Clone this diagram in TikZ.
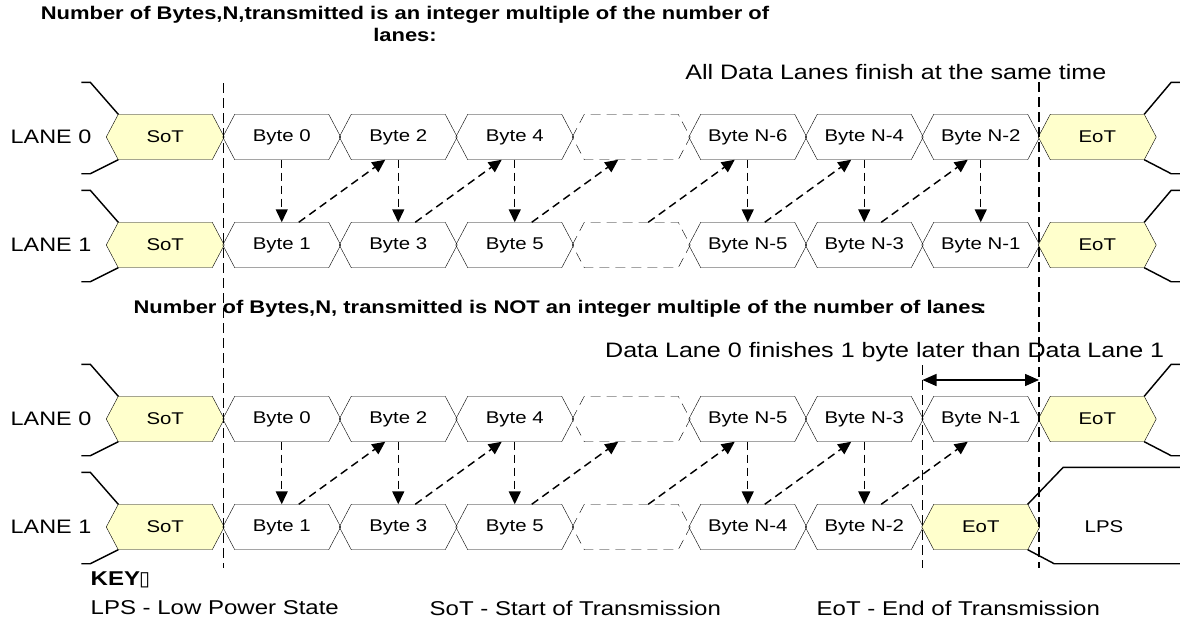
\documentclass[tikz,border=0pt]{standalone}
\usepackage{fontspec}
\setmainfont{Liberation Sans}[FakeStretch=1.2]
\newfontfamily\symfont{DejaVu Sans}
\usetikzlibrary{arrows.meta,backgrounds,calc}
\definecolor{sotfill}{HTML}{FFFFCC}
\newcommand{\mycell}[5]{%
  \node[cellnode] (#1) at (#2,#3) {#4};
  \begin{scope}[on background layer]
    \draw[#5] (#1.west) -- ([xshift=12pt]#1.north west) -- ([xshift=-12pt]#1.north east) -- (#1.east) -- ([xshift=-12pt]#1.south east) -- ([xshift=12pt]#1.south west) -- cycle;
  \end{scope}}
\newcommand{\leftlines}[1]{%
  \draw ([xshift=12pt]#1.north west) -- ++(-28,-32) -- ++(-9,0);
  \draw ([xshift=12pt]#1.south west) -- ++(-28,14) -- ++(-9,0);}
\newcommand{\rightlines}[1]{%
  \draw ([xshift=-12pt]#1.north east) -- ++(27,-32) -- ++(12,0);
  \draw ([xshift=-12pt]#1.south east) -- ++(27,14) -- ++(12,0);}
\begin{document}
\begin{tikzpicture}[x=1pt,y=-1pt,line width=1.45pt,
  cellnode/.style={minimum width=116.5pt,minimum height=44pt,inner sep=0pt,font=\fontsize{17}{20}\selectfont},
  hexplain/.style={draw=black},
  hexfill/.style={draw=black,fill=sotfill},
  hexdash/.style={draw=black,dash pattern=on 10pt off 6pt},
  dasharrow/.style={dash pattern=on 8pt off 5pt,-{Triangle[length=13pt,width=12pt]}},
  vline/.style={dash pattern=on 10pt off 5pt},
  lanelbl/.style={font=\fontsize{19.5}{22}\selectfont,inner sep=0pt},
  titletxt/.style={font=\fontsize{18.3}{21}\selectfont\bfseries,inner sep=0pt},
  notetxt/.style={font=\fontsize{20.9}{23}\selectfont,inner sep=0pt},
  keytxt/.style={font=\fontsize{20}{23}\selectfont,inner sep=0pt,anchor=west}]
\useasboundingbox (0,0) rectangle (1180,627);
\begin{scope}[on background layer]
  \fill[white] (0,0) rectangle (1180,627);
\end{scope}

% vertical dashed reference lines
\draw[vline] (223.5,83) -- (223.5,568);
\draw[vline] (1039,82) -- (1039,568);
\draw[vline] (922.5,365) -- (922.5,568);

% titles and notes
\node[titletxt] (t1a) at (405,15) {Number of Bytes,N,transmitted is an integer multiple of the number of};
\node[titletxt] (t1b) at (405,35) {lanes:};
\node[notetxt,anchor=east] (same) at (1107,72) {All Data Lanes finish at the same time};
\node[titletxt] (t2) at (560,309) {Number of Bytes,N, transmitted is NOT an integer multiple of the number of lanes\kern-0.2em:};
\node[notetxt,anchor=east] (late) at (1165,352) {Data Lane 0 finishes 1 byte later than Data Lane 1};

% lane labels
\node[lanelbl] (la0) at (51,137) {LANE 0};
\node[lanelbl] (la1) at (51,245) {LANE 1};
\node[lanelbl] (lb0) at (51,419) {LANE 0};
\node[lanelbl] (lb1) at (51,527) {LANE 1};

% ---------- top section, lane 0
\mycell{sA0}{165.25}{137}{SoT}{hexfill}
\mycell{a0b0}{281.75}{137}{Byte 0}{hexplain}
\mycell{a0b2}{398.25}{137}{Byte 2}{hexplain}
\mycell{a0b4}{514.75}{137}{Byte 4}{hexplain}
\mycell{a0d}{631.25}{137}{}{hexdash}
\mycell{a0n6}{747.75}{137}{Byte N-6}{hexplain}
\mycell{a0n4}{864.25}{137}{Byte N-4}{hexplain}
\mycell{a0n2}{980.75}{137}{Byte N-2}{hexplain}
\mycell{eA0}{1097.25}{137}{EoT}{hexfill}
% ---------- top section, lane 1
\mycell{sA1}{165.25}{245}{SoT}{hexfill}
\mycell{a1b1}{281.75}{245}{Byte 1}{hexplain}
\mycell{a1b3}{398.25}{245}{Byte 3}{hexplain}
\mycell{a1b5}{514.75}{245}{Byte 5}{hexplain}
\mycell{a1d}{631.25}{245}{}{hexdash}
\mycell{a1n5}{747.75}{245}{Byte N-5}{hexplain}
\mycell{a1n3}{864.25}{245}{Byte N-3}{hexplain}
\mycell{a1n1}{980.75}{245}{Byte N-1}{hexplain}
\mycell{eA1}{1097.25}{245}{EoT}{hexfill}
% ---------- bottom section, lane 0
\mycell{sB0}{165.25}{419}{SoT}{hexfill}
\mycell{b0b0}{281.75}{419}{Byte 0}{hexplain}
\mycell{b0b2}{398.25}{419}{Byte 2}{hexplain}
\mycell{b0b4}{514.75}{419}{Byte 4}{hexplain}
\mycell{b0d}{631.25}{419}{}{hexdash}
\mycell{b0n5}{747.75}{419}{Byte N-5}{hexplain}
\mycell{b0n3}{864.25}{419}{Byte N-3}{hexplain}
\mycell{b0n1}{980.75}{419}{Byte N-1}{hexplain}
\mycell{eB0}{1097.25}{419}{EoT}{hexfill}
% ---------- bottom section, lane 1
\mycell{sB1}{165.25}{527}{SoT}{hexfill}
\mycell{b1b1}{281.75}{527}{Byte 1}{hexplain}
\mycell{b1b3}{398.25}{527}{Byte 3}{hexplain}
\mycell{b1b5}{514.75}{527}{Byte 5}{hexplain}
\mycell{b1d}{631.25}{527}{}{hexdash}
\mycell{b1n4}{747.75}{527}{Byte N-4}{hexplain}
\mycell{b1n2}{864.25}{527}{Byte N-2}{hexplain}
\mycell{eB1}{980.75}{527}{EoT}{hexfill}
\node[cellnode] (lps) at (1104,527) {LPS};

% lane transition lines
\leftlines{sA0}\leftlines{sA1}\leftlines{sB0}\leftlines{sB1}
\rightlines{eA0}\rightlines{eA1}\rightlines{eB0}
\draw ([xshift=-12pt]eB1.north east) -- ++(35.5,-37) -- ++(130,0);
\draw ([xshift=-12pt]eB1.south east) -- ++(26.5,14) -- ++(130,0);

% byte ordering arrows, top section
\foreach \u/\l in {a0b0/a1b1,a0b2/a1b3,a0b4/a1b5,a0n6/a1n5,a0n4/a1n3,a0n2/a1n1}
  \draw[dasharrow] (\u.south) -- (\l.north);
\foreach \l/\u in {a1b1/a0b2,a1b3/a0b4,a1b5/a0d,a1d/a0n6,a1n5/a0n4,a1n3/a0n2}
  \draw[dasharrow] ([xshift=17pt]\l.north) -- ([xshift=-13pt]\u.south);
% byte ordering arrows, bottom section
\foreach \u/\l in {b0b0/b1b1,b0b2/b1b3,b0b4/b1b5,b0n5/b1n4,b0n3/b1n2}
  \draw[dasharrow] (\u.south) -- (\l.north);
\foreach \l/\u in {b1b1/b0b2,b1b3/b0b4,b1b5/b0d,b1d/b0n5,b1n4/b0n3,b1n2/b0n1}
  \draw[dasharrow] ([xshift=17pt]\l.north) -- ([xshift=-13pt]\u.south);

% one-byte-later span
\coordinate (spanL) at (922.5,380);
\coordinate (spanR) at (1039,380);
\draw[{Triangle[length=14pt,width=12pt]}-{Triangle[length=14pt,width=12pt]}] (spanL) -- (spanR);

% key
\node[keytxt,font=\fontsize{20}{23}\selectfont\bfseries] (key) at (90,580) {KEY{\symfont\fontsize{20}{23}\selectfont\kern-0.05em ▯}};
\node[keytxt] (klps) at (90,608) {LPS - Low Power State};
\node[keytxt] (ksot) at (429,608) {SoT - Start of Transmission};
\node[keytxt] (keot) at (816,608) {EoT - End of Transmission};
\end{tikzpicture}
\end{document}
